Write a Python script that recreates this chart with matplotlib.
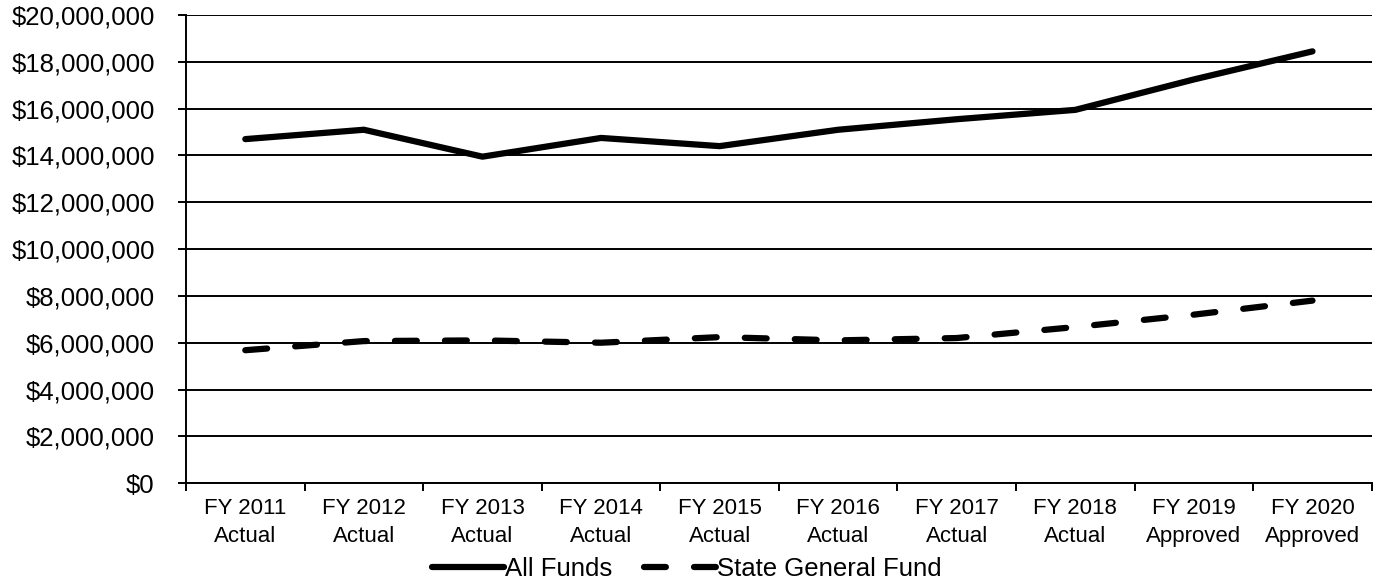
import numpy as np
import matplotlib.pyplot as plt
from matplotlib.ticker import FuncFormatter, MultipleLocator, FixedLocator

plt.rcParams['font.family'] = ['Liberation Sans', 'DejaVu Sans']

years = ["FY 2011\nActual", "FY 2012\nActual", "FY 2013\nActual", "FY 2014\nActual",
         "FY 2015\nActual", "FY 2016\nActual", "FY 2017\nActual", "FY 2018\nActual",
         "FY 2019\nApproved", "FY 2020\nApproved"]
all_funds = [14700000, 15100000, 13950000, 14750000, 14400000,
             15100000, 15550000, 15950000, 17250000, 18450000]
state_general = [5680000, 6070000, 6100000, 6000000, 6240000,
                 6100000, 6200000, 6670000, 7200000, 7800000]

fig = plt.figure(figsize=(13.82, 5.80), dpi=100)
ax = fig.add_axes([0.1346, 0.167, 0.858, 0.807])

x = np.arange(len(years))
l1, = ax.plot(x, all_funds, color="black", lw=4.5, solid_capstyle="round",
              solid_joinstyle="round", label="All Funds")
l2, = ax.plot(x, state_general, color="black", lw=4.5, dashes=(3.5, 4.5),
              dash_capstyle="round", label="State General Fund")

ax.set_xlim(-0.5, len(years) - 0.5)
ax.set_ylim(0, 20000000)
ax.yaxis.set_major_locator(MultipleLocator(2000000))
ax.yaxis.set_major_formatter(FuncFormatter(lambda v, p: "${:,.0f}".format(v)))
ax.grid(axis="y", color="black", lw=1.4)
ax.set_axisbelow(True)

ax.set_xticks(x)
ax.set_xticklabels(years, fontsize=16, linespacing=1.4)
ax.xaxis.set_minor_locator(FixedLocator(np.arange(-0.5, len(years), 1)))
ax.tick_params(axis="x", which="major", length=0, pad=11)
ax.tick_params(axis="x", which="minor", length=6, width=1.4, direction="out")
ax.tick_params(axis="y", length=6, width=1.4, direction="out", labelsize=18.5, pad=16.5)

for s in ["top", "right"]:
    ax.spines[s].set_visible(False)
for s in ["left", "bottom"]:
    ax.spines[s].set_linewidth(1.4)
    ax.spines[s].set_color("black")

fig.legend(handles=[l1, l2], loc="lower center", bbox_to_anchor=(0.497, -0.042),
           ncol=2, frameon=False, fontsize=18.5, handlelength=2.8,
           handletextpad=0.07, columnspacing=1.2)

fig.savefig("out.png", dpi=100)
